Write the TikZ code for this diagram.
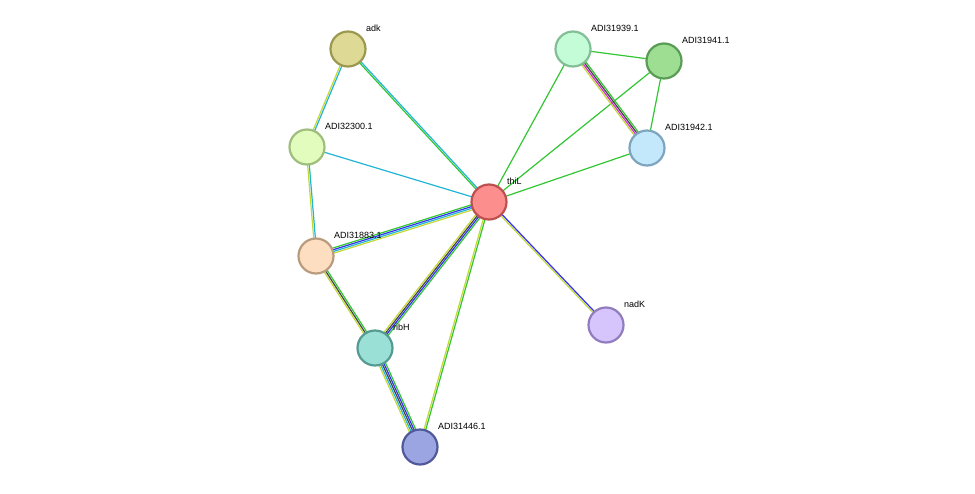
\documentclass[tikz,border=0pt]{standalone}
\usepackage{fontspec}
\setmainfont{Liberation Sans}
\usetikzlibrary{calc}
\definecolor{eg}{HTML}{33C633}
\definecolor{ec}{HTML}{22B4D4}
\definecolor{eb}{HTML}{3030F0}
\definecolor{ey}{HTML}{C4D838}
\definecolor{ek}{HTML}{444444}
\definecolor{em}{HTML}{D22DD2}
\tikzset{
 prot/.style={circle,draw,line width=2.2pt,minimum size=35pt,inner sep=0pt},
 lab/.style={anchor=west,font=\fontsize{9}{10}\selectfont,inner sep=0pt}
}
\newcommand\medge[4]{% a b n colors
 \foreach \cc [count=\ii] in {#4}{
  \pgfmathsetmacro\off{(\ii-(#3+1)/2)*1.7}
  \draw[\cc,line width=1.2pt] ($(#1.center)!\off pt!90:(#2.center)$) -- ($(#2.center)!\off pt!-90:(#1.center)$);
 }}
\begin{document}
\begin{tikzpicture}[x=1pt,y=-1pt]
\useasboundingbox (0,0) rectangle (975,493);
\coordinate (adk) at (348,49);
\coordinate (p300) at (307,147);
\coordinate (p883) at (316,256);
\coordinate (ribH) at (375,348);
\coordinate (p446) at (420,447);
\coordinate (thiL) at (489,202);
\coordinate (p939) at (573,49);
\coordinate (p941) at (664,61);
\coordinate (p942) at (647,148);
\coordinate (nadK) at (606,325);
\medge{adk}{thiL}{2}{eg,ec}
\medge{adk}{p300}{2}{ey,ec}
\medge{p300}{thiL}{1}{ec}
\medge{p300}{p883}{2}{ey,ec}
\medge{p883}{thiL}{4}{ey,ec,eb,eg}
\medge{p883}{ribH}{3}{ey,ek,eg}
\medge{ribH}{thiL}{4}{eg,eb,ek,ey}
\medge{ribH}{p446}{5}{ey,ec,ek,eb,eg}
\medge{thiL}{p446}{2}{ey,eg}
\medge{thiL}{nadK}{2}{ey,eb}
\medge{thiL}{p939}{1}{eg}
\medge{thiL}{p941}{1}{eg}
\medge{thiL}{p942}{1}{eg}
\medge{p939}{p941}{1}{eg}
\medge{p941}{p942}{1}{eg}
\medge{p939}{p942}{4}{ey,em,ek,eg}
\node[prot,fill={rgb,255:red,222;green,218;blue,150},draw={rgb,255:red,155;green,152;blue,80}] (nadk) at (adk) {};
\node[prot,fill={rgb,255:red,226;green,252;blue,190},draw={rgb,255:red,158;green,190;blue,125}] at (p300) {};
\node[prot,fill={rgb,255:red,253;green,222;blue,192},draw={rgb,255:red,185;green,155;blue,125}] at (p883) {};
\node[prot,fill={rgb,255:red,155;green,224;blue,214},draw={rgb,255:red,85;green,155;blue,145}] at (ribH) {};
\node[prot,fill={rgb,255:red,155;green,165;blue,225},draw={rgb,255:red,80;green,90;blue,155}] at (p446) {};
\node[prot,fill={rgb,255:red,252;green,142;blue,142},draw={rgb,255:red,190;green,80;blue,80}] at (thiL) {};
\node[prot,fill={rgb,255:red,195;green,252;blue,215},draw={rgb,255:red,130;green,190;blue,150}] at (p939) {};
\node[prot,fill={rgb,255:red,158;green,222;blue,146},draw={rgb,255:red,90;green,155;blue,85}] at (p941) {};
\node[prot,fill={rgb,255:red,195;green,232;blue,252},draw={rgb,255:red,125;green,165;blue,190}] at (p942) {};
\node[prot,fill={rgb,255:red,214;green,196;blue,252},draw={rgb,255:red,145;green,125;blue,190}] at (nadK) {};
\node[lab] (l1) at (366,28) {adk};
\node[lab] (l2) at (325,126) {ADI32300.1};
\node[lab] (l3) at (334,235) {ADI31883.1};
\node[lab] (l4) at (393,327) {ribH};
\node[lab] (l5) at (438,426) {ADI31446.1};
\node[lab] (l6) at (507,181) {thiL};
\node[lab] (l7) at (591,28) {ADI31939.1};
\node[lab] (l8) at (682,40) {ADI31941.1};
\node[lab] (l9) at (665,127) {ADI31942.1};
\node[lab] (l10) at (624,304) {nadK};
\end{tikzpicture}
\end{document}
